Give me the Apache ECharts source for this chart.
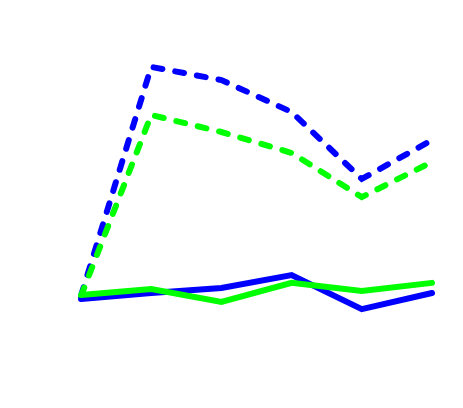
<!DOCTYPE html>
<html>
<head>
<meta charset="utf-8">
<script src="https://cdn.jsdelivr.net/npm/echarts@6/dist/echarts.min.js"></script>
<style>
  html, body { margin: 0; padding: 0; background: #fff; }
  #chart { width: 463px; height: 408px; }
</style>
</head>
<body>
<div id="chart"></div>
<script>
(function(window){
    // values (arbitrary units)
    var categories = ['1', '2', '3', '4', '5', '6'];
    var blueDashed  = [0, 9.96, 9.39, 8.0, 5.09, 6.78];
    var greenDashed = [0, 7.87, 7.13, 6.22, 4.30, 5.83];
    var blueSolid   = [-0.13, 0.13, 0.35, 0.91, -0.57, 0.13];
    var greenSolid  = [0.04, 0.30, -0.26, 0.57, 0.22, 0.57];

    function makeLine(data, color, dashed){
        return {
            type: 'line',
            data: data,
            symbol: 'none',
            silent: true,
            lineStyle: {
                color: color,
                width: 6,
                type: dashed ? [9, 13] : 'solid',
                cap: 'round',
                join: 'miter'
            }
        };
    }

    var chart = echarts.init(document.getElementById('chart'));
    chart.setOption({
        animation: false,
        backgroundColor: '#fff',
        grid: { left: 81, right: 31, top: 20, bottom: 66 },
        xAxis: {
            type: 'category',
            data: categories,
            boundaryGap: false,
            show: false
        },
        yAxis: {
            type: 'value',
            min: -2,
            max: 12,
            show: false
        },
        series: [
            makeLine(blueDashed, '#0000ff', true),
            makeLine(greenDashed, '#00ff00', true),
            makeLine(blueSolid, '#0000ff', false),
            makeLine(greenSolid, '#00ff00', false)
        ]
    });
})(window);
</script>
</body>
</html>
